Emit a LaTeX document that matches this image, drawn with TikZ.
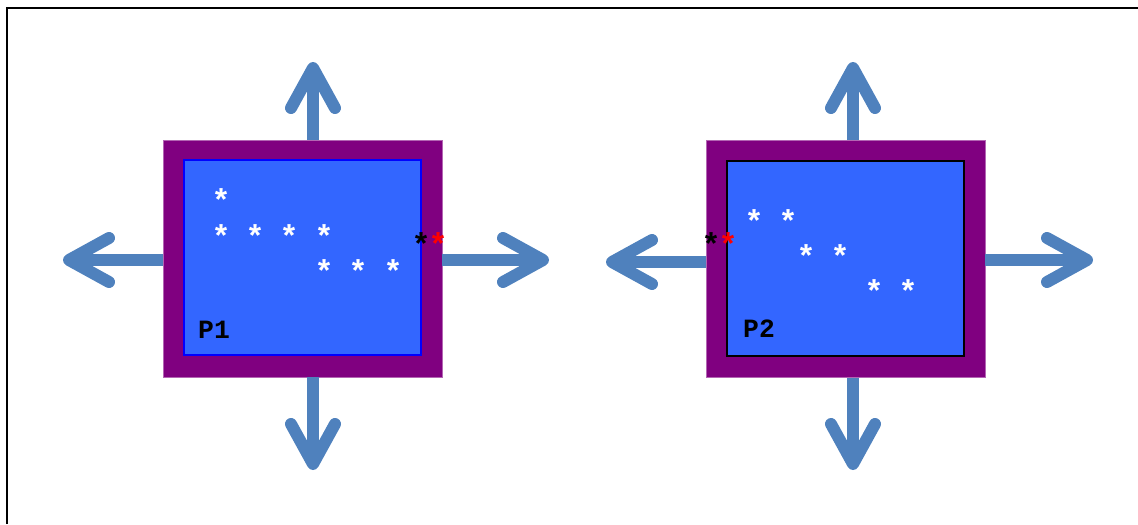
\documentclass[tikz,border=0pt]{standalone}
\usepackage{fontspec}
\setmonofont{Liberation Mono}
\usetikzlibrary{arrows.meta}

\definecolor{procpurple}{RGB}{128,0,128}
\definecolor{procblue}{RGB}{51,102,255}
\definecolor{arrowblue}{RGB}{79,129,189}

\tikzset{
  outerbox/.style={fill=procpurple, draw=procpurple!60, line width=0.3pt,
    minimum width=5.58cm, minimum height=4.74cm, inner sep=0pt},
  innerbox/.style={fill=procblue, line width=1pt,
    minimum width=4.74cm, minimum height=3.9cm, inner sep=0pt},
  flow/.style={arrowblue, line width=0.24cm,
    -{Straight Barb[length=0.8cm,width=0.88cm,round]}},
  star/.style={font=\ttfamily\bfseries\fontsize{18}{18}\selectfont, inner sep=0pt},
  lbl/.style={font=\ttfamily\bfseries\fontsize{15}{15}\selectfont, inner sep=0pt}
}

\begin{document}
\begin{tikzpicture}[x=0.02cm, y=-0.02cm]
  \useasboundingbox (0,0) rectangle (1138,524);
  \draw[line width=1.1pt] (7,524) -- (7,8) -- (1138,8);

  % first process
  \node[outerbox] (pa) at (302.5,258.5) {};
  \node[innerbox, draw=blue] (pai) at (302.5,257.5) {};
  \node[lbl] (pal) at (214,330) {P1};

  % second process
  \node[outerbox] (pb) at (845.5,259) {};
  \node[innerbox, draw=black] (pbi) at (845.5,258.5) {};
  \node[lbl] (pbl) at (759,329) {P2};

  % tips of the outgoing arrows
  \coordinate (pau) at (313,62);
  \coordinate (pad) at (313,470);
  \coordinate (pal) at (63,260);
  \coordinate (par) at (549,260);
  \coordinate (pbu) at (853,62);
  \coordinate (pbd) at (853,470);
  \coordinate (pbw) at (606,262);
  \coordinate (pbe) at (1093,260);

  \draw[flow] (pa.north -| pau) -- (pau);
  \draw[flow] (pa.south -| pad) -- (pad);
  \draw[flow] (pa.west |- pal) -- (pal);
  \draw[flow] (pa.east |- par) -- (par);
  \draw[flow] (pb.north -| pbu) -- (pbu);
  \draw[flow] (pb.south -| pbd) -- (pbd);
  \draw[flow] (pb.west |- pbw) -- (pbw);
  \draw[flow] (pb.east |- pbe) -- (pbe);

  % data held by each process
  \foreach \x/\y [count=\i] in {221/200, 221/236, 255/236, 289/236, 324/236,
                                324/271, 358/271, 393/271}
    \node[star, white] (sa\i) at (\x,\y) {*};
  \foreach \x/\y [count=\i] in {754/221, 788/221, 806/256, 840/256,
                                874/291, 908/291}
    \node[star, white] (sb\i) at (\x,\y) {*};

  % halo cells
  \node[star, black] (hak) at (421,244) {*};
  \node[star, red] (har) at (438,244) {*};
  \node[star, black] (hbk) at (711,244) {*};
  \node[star, red] (hbr) at (728,244) {*};
\end{tikzpicture}
\end{document}
